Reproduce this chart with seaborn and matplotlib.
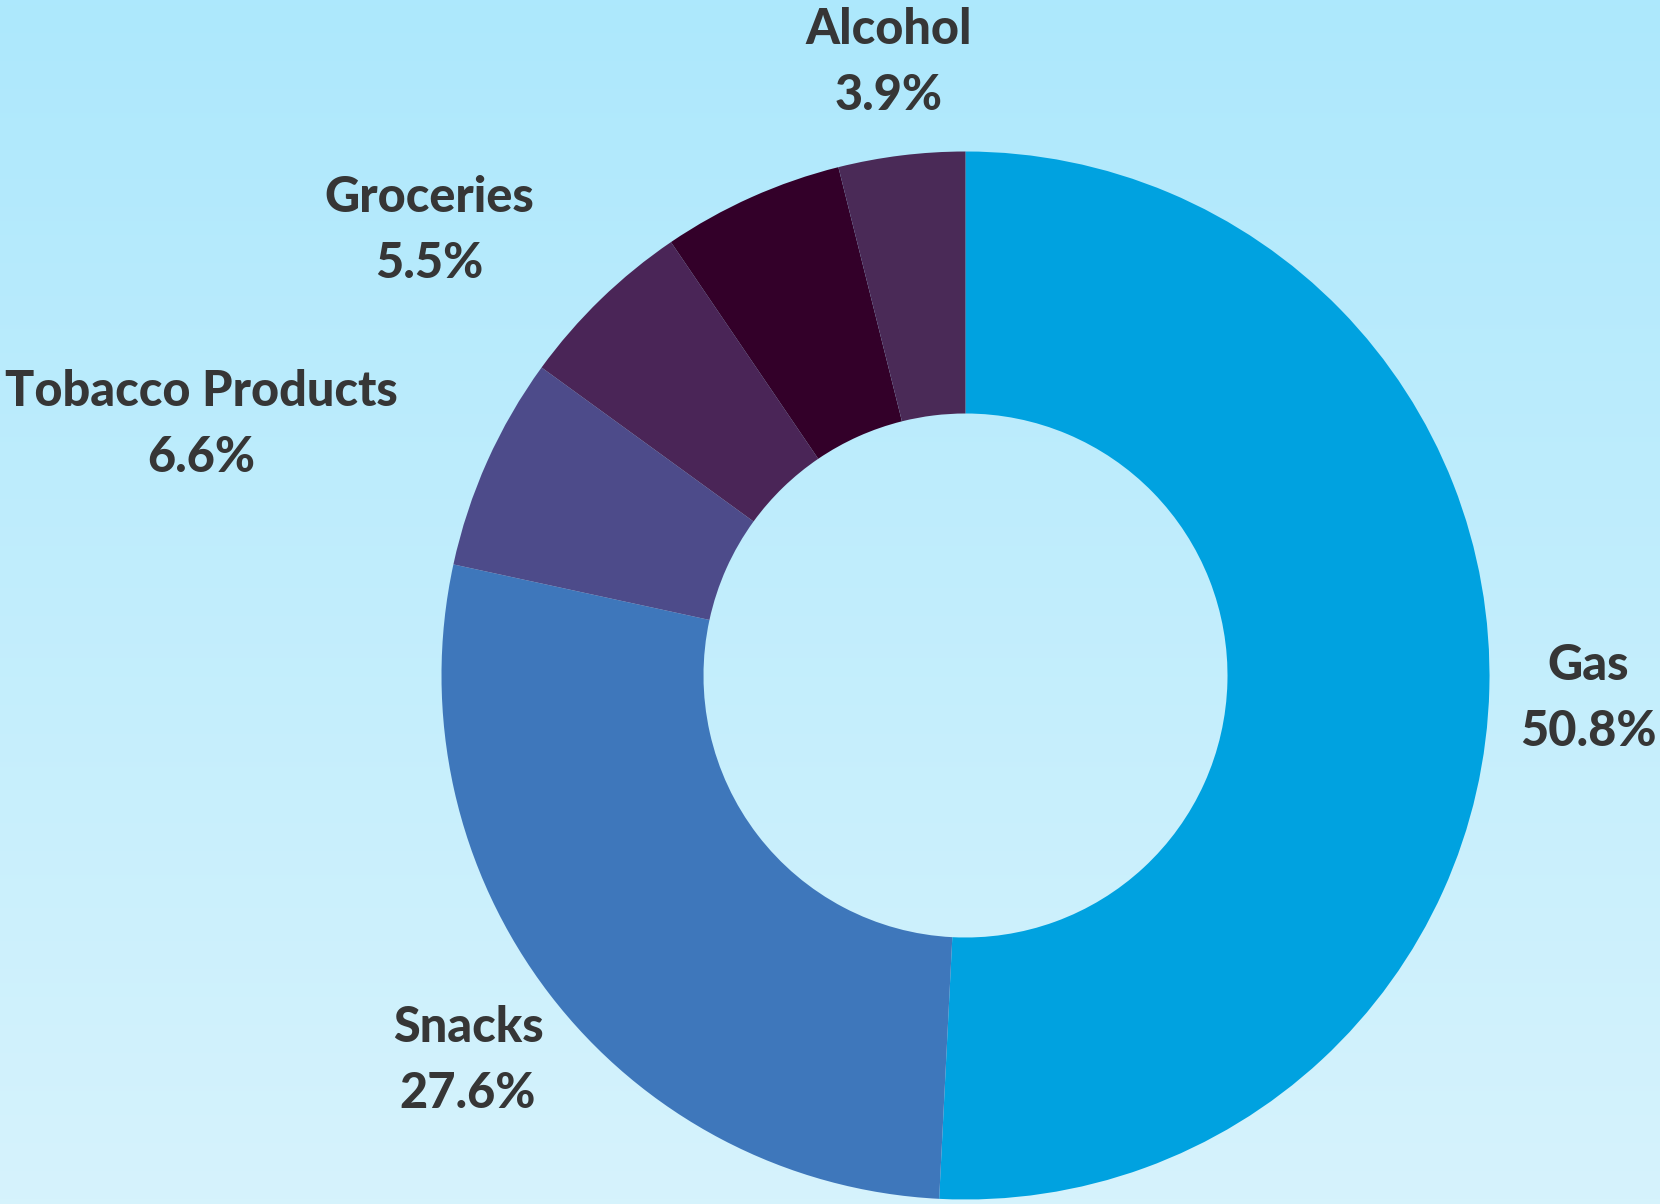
import numpy as np
import matplotlib
matplotlib.use("Agg")
import matplotlib.pyplot as plt
import seaborn as sns
from matplotlib.colors import LinearSegmentedColormap
from matplotlib import font_manager

# Share of sales by category (percent)
categories = ["Gas", "Snacks", "Tobacco Products", "Groceries", "Other", "Alcohol"]
shares = [50.8, 27.6, 6.6, 5.5, 5.6, 3.9]
show_label = [True, True, True, True, False, True]
colors = ["#00a2e0", "#3e77bb", "#4d4b8a", "#4a2557", "#330029", "#4a2a57"]

# Label anchor points (pixels, origin bottom-left): midpoint between name and value lines
label_pos = {
    "Gas": (1588, 505),
    "Snacks": (468, 144),
    "Tobacco Products": (201, 780),
    "Groceries": (429, 973),
    "Alcohol": (889, 1141),
}

sns.set_theme(style="white")
plt.rcParams["font.family"] = ["Lato", "DejaVu Sans"]

# pick the heaviest installed Lato weight
weights = [f.weight for f in font_manager.fontManager.ttflist if f.name == "Lato"]
num = []
for w in weights:
    try:
        num.append(int(w))
    except (TypeError, ValueError):
        num.append(font_manager.weight_dict.get(w, 400))
label_weight = 900 if any(n >= 900 for n in num) else "bold"

W, H = 1660, 1204
fig = plt.figure(figsize=(W / 100, H / 100), dpi=100)

# background vertical gradient
bg = fig.add_axes([0, 0, 1, 1])
grad = np.linspace(0, 1, 256).reshape(-1, 1)
cmap = LinearSegmentedColormap.from_list("sky", ["#ade8fd", "#d6f3fc"])
bg.imshow(grad, aspect="auto", cmap=cmap, extent=[0, 1, 0, 1], origin="upper")
bg.set_axis_off()

ax = fig.add_axes([0, 0, 1, 1])
ax.patch.set_alpha(0)

cx, cy, R = 965.5, 528.5, 524
ax.pie(shares, colors=colors, startangle=90, counterclock=False,
       center=(cx, cy), radius=R, frame=True,
       wedgeprops=dict(width=R * 0.5, linewidth=0))
ax.set_xlim(0, W)
ax.set_ylim(0, H)
ax.set_aspect("equal")
ax.set_axis_off()

for name, val, show in zip(categories, shares, show_label):
    if not show:
        continue
    x, y = label_pos[name]
    ax.text(x, y + 33, name, ha="center", va="center", fontsize=35,
            fontweight=label_weight, color="#363636")
    ax.text(x, y - 33, f"{val}%", ha="center", va="center", fontsize=35,
            fontweight=label_weight, color="#363636")

fig.savefig("out.png", dpi=100)
